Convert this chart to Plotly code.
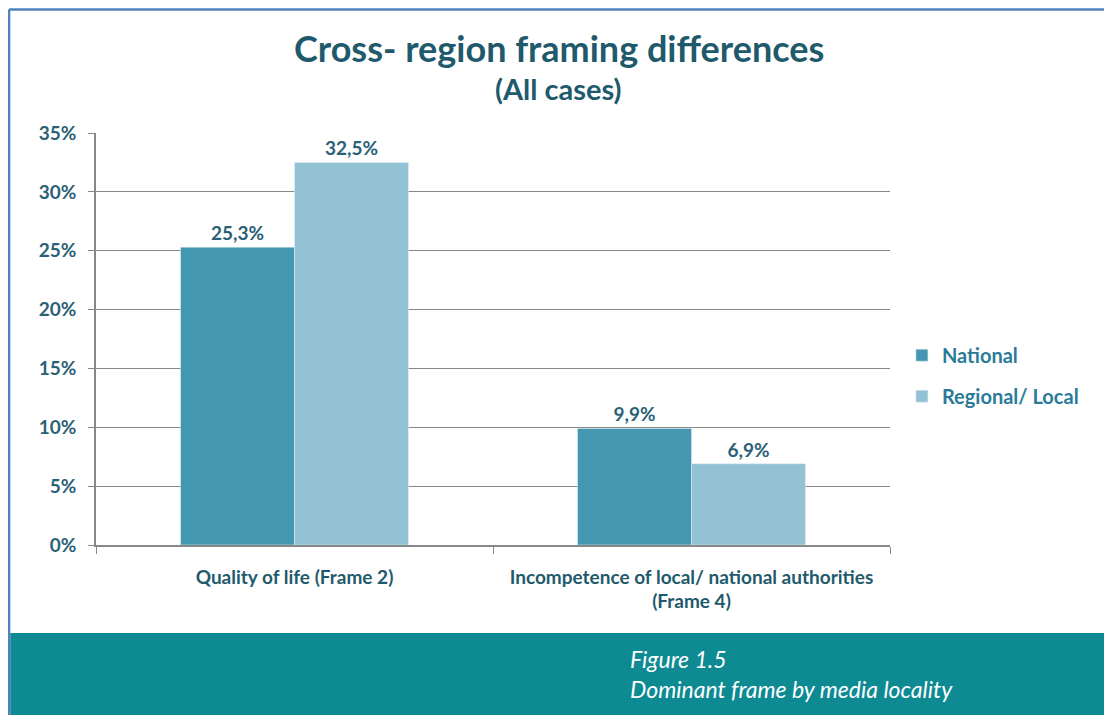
import plotly.graph_objects as go

categories = ["Quality of life (Frame 2)",
              "Incompetence of local/ national authorities<br>(Frame 4)"]
national = [0.253, 0.099]
regional = [0.325, 0.069]

DARK = "#1f5a6c"
LABEL = "#2b6176"
FONT = "Lato"

fig = go.Figure()

fig.add_trace(go.Bar(
    x=categories, y=national, name="National",
    marker=dict(color="#4397b0"),
    texttemplate="%{y:.1%}", textposition="outside", cliponaxis=False,
    legendgroup="a"
))
fig.add_trace(go.Bar(
    x=categories, y=regional, name="Regional/ Local",
    marker=dict(color="#93c2d4"),
    texttemplate="%{y:.1%}", textposition="outside", cliponaxis=False,
    legendgroup="b"
))
fig.update_traces(textfont=dict(color=LABEL, size=19, family=FONT, weight="bold"))

# caption band and frame
fig.add_shape(type="rect", xref="paper", yref="paper",
              x0=-0.108, x1=1.28, y0=-0.45, y1=-0.2136,
              fillcolor="#0e8a93", line=dict(width=0), layer="below")
fig.add_shape(type="line", xref="paper", yref="paper",
              x0=-0.1095, x1=-0.1095, y0=-0.45, y1=1.3,
              line=dict(color="#4f81bd", width=2.5))
fig.add_shape(type="line", xref="paper", yref="paper",
              x0=-0.1095, x1=1.28, y0=1.3, y1=1.3,
              line=dict(color="#4f81bd", width=2.5))

fig.add_annotation(text="<b>Cross- region framing differences</b>",
                   xref="paper", yref="paper", x=0.583, y=1.206,
                   xanchor="center", yanchor="middle", showarrow=False,
                   font=dict(size=36, color=DARK, family=FONT))
fig.add_annotation(text="<b>(All cases)</b>",
                   xref="paper", yref="paper", x=0.583, y=1.109,
                   xanchor="center", yanchor="middle", showarrow=False,
                   font=dict(size=29, color=DARK, family=FONT))
fig.add_annotation(text="<i>Figure 1.5<br>Dominant frame by media locality</i>",
                   xref="paper", yref="paper", x=0.670, y=-0.313,
                   xanchor="left", yanchor="middle", align="left", showarrow=False,
                   font=dict(size=23, color="white", family=FONT))

fig.update_layout(
    width=1104, height=707, autosize=False,
    margin=dict(l=88, r=222, t=125, b=170),
    paper_bgcolor="white", plot_bgcolor="white",
    separators=", ",
    barmode="group", bargap=0.426, bargroupgap=0,
    font=dict(family=FONT, color=LABEL, size=18),
    legend=dict(x=1.015, y=0.411, yanchor="middle", xanchor="left",
                tracegroupgap=12, traceorder="grouped",
                font=dict(size=20, color="#2b7a99", family=FONT, weight="bold")),
    xaxis=dict(showline=True, linecolor="#888888", linewidth=1.5,
               ticks="outside", tickson="boundaries", ticklen=7, tickcolor="#888888",
               ticklabelstandoff=14,
               tickfont=dict(size=19, color=DARK, family=FONT, weight="bold")),
    yaxis=dict(range=[0, 0.35], dtick=0.05, tickformat=".0%",
               showgrid=True, gridcolor="#888888", gridwidth=1,
               showline=True, linecolor="#888888", linewidth=1.5,
               ticks="outside", ticklen=6, tickcolor="#888888",
               ticklabelstandoff=8, zeroline=False,
               tickfont=dict(size=19, color=LABEL, family=FONT, weight="bold")),
)

fig.write_html("out.html")
